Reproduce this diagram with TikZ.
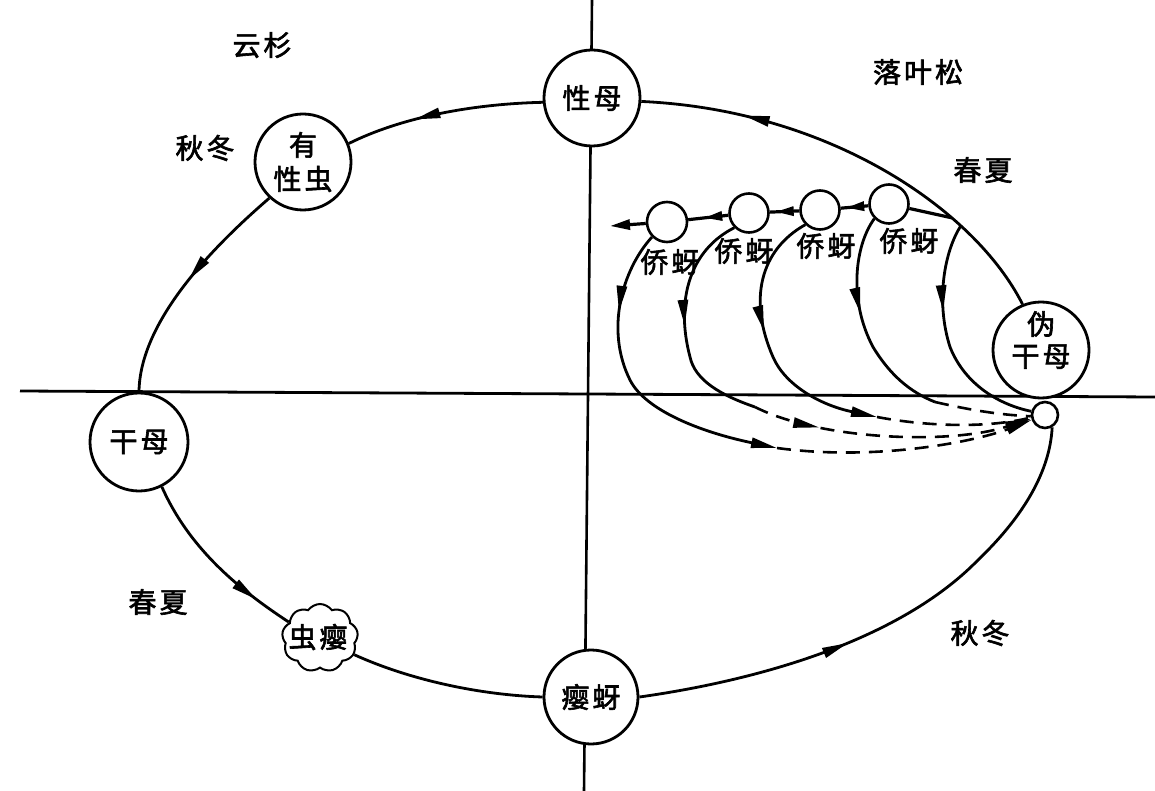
\documentclass[tikz,border=0pt]{standalone}
\usepackage{fontspec}
\newfontfamily\cjk[FakeBold=2.2]{Noto Sans CJK SC}
\usetikzlibrary{arrows.meta,decorations.markings,shapes.symbols}
\newcommand\chgap{\hspace{3pt}}
\begin{document}
\begin{tikzpicture}[x=1pt,y=-1pt,
  font=\cjk\fontsize{28}{36}\selectfont,
  ln/.style={line width=2.8pt},
  dsh/.style={line width=2.6pt, dash pattern=on 14pt off 9pt},
  bigc/.style={circle, draw, line width=2.8pt, fill=white, minimum size=#1, inner sep=0pt, align=center},
  smc/.style={circle, draw, line width=2.6pt, fill=white, minimum size=#1, inner sep=0pt},
  tip/.style={-{Triangle[length=26pt,width=10pt]}},
  marr/.style={postaction={decoration={markings, mark=at position #1 with {\arrow{Triangle[length=26pt,width=10pt]}}}, decorate}},
  sarr/.style={postaction={decoration={markings, mark=at position #1 with {\arrow{Triangle[length=18pt,width=9pt]}}}, decorate}},
  lbl/.style={inner sep=0pt}
]
\useasboundingbox (0,0) rectangle (1155,791);
\fill[white] (0,0) rectangle (1155,791);

% axes
\draw[line width=2.8pt] (20,391) -- (1155,397);
\draw[line width=2.6pt] (592,0) -- (584,791);

% main nodes
\node[bigc=96pt] (xm) at (592,98) {性\chgap 母};
\node[bigc=96pt] (yx) at (303,162) {有\\[-2pt]性\chgap 虫};
\node[bigc=98pt] (gm) at (139,442) {干\chgap 母};
\node[bigc=94pt] (ym) at (591,697) {瘿\chgap 蚜};
\node[bigc=96pt] (wg) at (1041,350) {};
\node[lbl, align=center] (wgt) at (1041,340) {伪\\[-4pt]干\chgap 母};
\node[smc=26pt] (sc) at (1045,415) {};
\node[cloud, draw, cloud puffs=9, cloud puff arc=110, aspect=1.1, minimum width=76pt, minimum height=68pt, line width=2pt, inner sep=0pt, fill=white] (cy) at (320,638) {};
\node[lbl] (cyt) at (318,637) {虫\chgap 瘿};

% small 侨蚜 circles
\node[smc=40pt] (q1) at (667,222) {};
\node[smc=39pt] (q2) at (749,213) {};
\node[smc=39pt] (q3) at (820,210) {};
\node[smc=39pt] (q4) at (889,204) {};

% labels
\node[lbl] (l1) at (262,45) {云\chgap 杉};
\node[lbl] (l2) at (918,72) {落\chgap 叶\chgap 松};
\node[lbl] (l3) at (205,148) {秋\chgap 冬};
\node[lbl] (l4) at (983,170) {春\chgap 夏};
\node[lbl] (l5) at (158,602) {春\chgap 夏};
\node[lbl] (l6) at (980,633) {秋\chgap 冬};
\node[lbl] (t1) at (670,262) {侨\chgap 蚜};
\node[lbl] (t2) at (744,251) {侨\chgap 蚜};
\node[lbl] (t3) at (826,246) {侨\chgap 蚜};
\node[lbl] (t4) at (909,241) {侨\chgap 蚜};

% coordinates
\coordinate (qe) at (610,226);
\coordinate (a1) at (777,448);
\coordinate (b1) at (755,407);
\coordinate (c1) at (877,417);
\coordinate (d1) at (935,402);

% main cycle
\draw[ln, marr=0.65] (xm.185) .. controls (470,104) and (400,118) .. (yx.22);
\draw[ln, marr=0.48] (yx.227) .. controls (215,245) and (140,320) .. (gm.north);
\draw[ln, marr=0.79] (gm.297) .. controls (190,550) and (240,590) .. (cy.153);
\draw[ln] (cy.-26) .. controls (410,680) and (480,695) .. (ym.west);
\draw[ln, marr=0.41] (ym.east) .. controls (760,680) and (900,640) .. (978,560) .. controls (1025,515) and (1050,470) .. (sc.-60);
\draw[ln, marr=0.77] (wg.112) .. controls (975,210) and (830,110) .. (xm.-4)
  coordinate[pos=0.28] (br2) coordinate[pos=0.31] (br1);

% chain of 侨蚜
\draw[line width=3.2pt] (br1) -- (q4);
\draw[line width=3.2pt, sarr=0.8] (q4) -- (q3);
\draw[line width=3.2pt, sarr=0.8] (q3) -- (q2);
\draw[line width=3.2pt, sarr=0.6] (q2) -- (q1);
\draw[line width=3.2pt, -{Triangle[length=20pt,width=10pt]}] (q1) -- (qe);

% descending curves
\draw[ln, marr=0.26, tip] (q1.225) .. controls (622,270) and (605,330) .. (630,380) .. controls (645,410) and (700,432) .. (a1);
\draw[dsh, tip] (a1) .. controls (880,462) and (980,440) .. (sc.200);

\draw[ln, marr=0.5] (q2.225) .. controls (690,250) and (675,300) .. (690,357) .. controls (695,380) and (720,395) .. (b1);
\draw[dsh, marr=0.24, tip] (b1) .. controls (820,440) and (950,445) .. (sc.195);

\draw[ln, marr=0.45, tip] (q3.225) .. controls (760,250) and (748,300) .. (773,357) .. controls (785,385) and (820,405) .. (c1);
\draw[dsh] (c1) .. controls (930,427) and (990,428) .. (sc.190);

\draw[ln, marr=0.45] (q4.225) .. controls (855,245) and (848,300) .. (873,347) .. controls (890,375) and (910,392) .. (d1);
\draw[dsh] (d1) .. controls (970,410) and (1000,415) .. (sc.185);

\draw[ln, marr=0.38] (br2) .. controls (945,250) and (935,300) .. (950,347) .. controls (965,385) and (1000,405) .. (sc.165);
\end{tikzpicture}
\end{document}
